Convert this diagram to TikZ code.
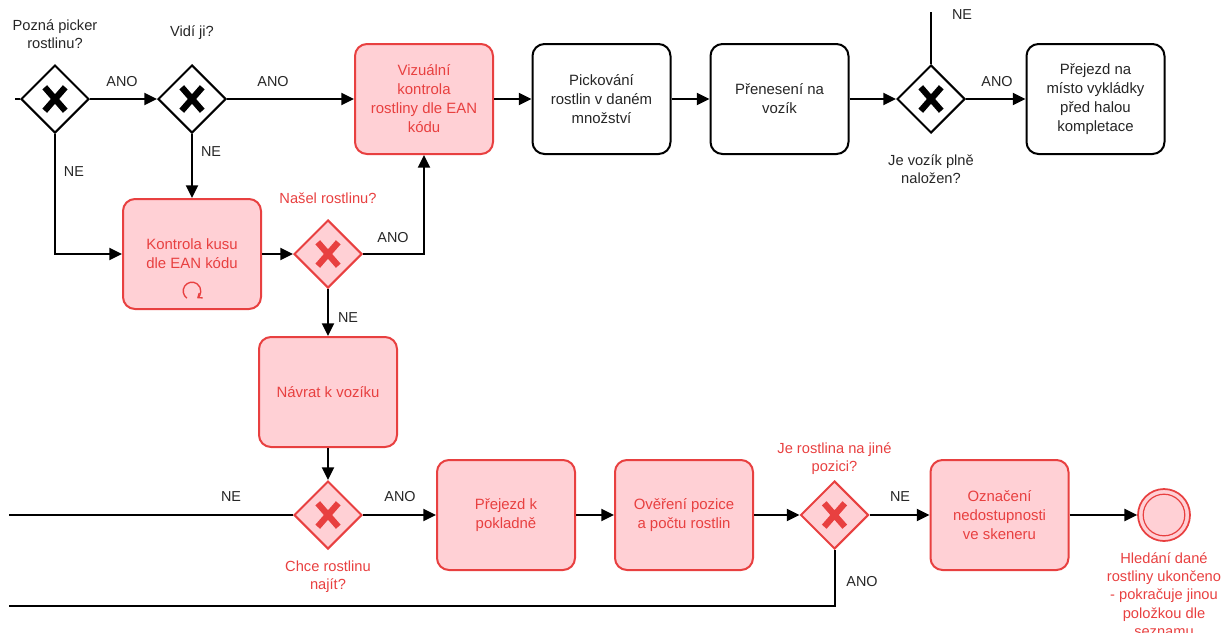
\documentclass[tikz,border=0pt]{standalone}
\usepackage{fontspec}
\setmainfont{Liberation Sans}
\usetikzlibrary{shapes.geometric,arrows.meta}
\definecolor{bpred}{RGB}{232,64,64}
\definecolor{bpfill}{RGB}{255,208,213}
\definecolor{inkgray}{RGB}{38,38,38}

\tikzset{
  flow/.style={line width=1.5pt, -{Triangle[length=9.5pt,width=9pt]}},
  plain/.style={line width=1.5pt},
  task/.style={draw, rounded corners=9pt, line width=1.5pt,
    minimum width=103.5pt, minimum height=82.5pt, align=center, inner sep=2pt,
    font=\fontsize{11.2}{14.25}\selectfont, text=inkgray, fill=white},
  redtask/.style={task, draw=bpred, fill=bpfill, text=bpred},
  gate/.style={diamond, draw, line width=1.5pt, minimum width=51pt,
    minimum height=51pt, inner sep=0pt, aspect=1, fill=white},
  redgate/.style={gate, draw=bpred, fill=bpfill},
  lbl/.style={font=\fontsize{10.8}{13}\selectfont, text=inkgray, inner sep=0pt},
  qlbl/.style={align=center, font=\fontsize{11}{13.5}\selectfont, text=inkgray, inner sep=0pt},
  redq/.style={qlbl, text=bpred},
}

% exclusive-gateway cross drawn over a diamond node
\newcommand\gatex[2]{%
  \draw[line width=4.7pt,#2]
    ([shift={(-7.7pt,-8.8pt)}]#1.center) -- ([shift={(7.7pt,8.8pt)}]#1.center)
    ([shift={(-7.7pt,8.8pt)}]#1.center) -- ([shift={(7.7pt,-8.8pt)}]#1.center);}

\begin{document}
\begin{tikzpicture}[x=0.75pt,y=-0.75pt]
\useasboundingbox (0,0) rectangle (1224,632);
\clip (0,0) rectangle (1224,632);

% ---------- upper lane ----------
\node[gate] (g1) at (55,99) {};
\gatex{g1}{black}
\node[qlbl] (q1) at (55,34) {Pozná picker\\rostlinu?};
\coordinate (in1) at (15,99);

\node[gate] (g2) at (192,99) {};
\gatex{g2}{black}
\node[qlbl] (q2) at (192,33) {Vidí ji?};

\node[redtask] (viz)  at (424,99) {Vizuální\\kontrola\\rostliny dle EAN\\kódu};
\node[task]    (pick) at (601.5,99) {Pickování\\rostlin v daném\\množství};
\node[task]    (pren) at (779.5,99) {Přenesení na\\vozík};

\node[gate] (g3) at (931,99) {};
\gatex{g3}{black}
\node[qlbl] (q3) at (931,169) {Je vozík plně\\naložen?};
\coordinate (top3) at (931,12);

\node[task] (prej) at (1095.5,99) {Přejezd na\\místo vykládky\\před halou\\kompletace};

% ---------- search loop ----------
\node[redtask] (kon) at (192,254) {Kontrola kusu\\dle EAN kódu};
\coordinate (loopc) at (192,291);
\draw[bpred, line width=1pt, -{Straight Barb[length=2.8pt,width=4.5pt]}]
  ([shift={(235:6.6pt)}]loopc) arc[start angle=235, end angle=-55, radius=6.6pt];

\node[redgate] (g4) at (328,254) {};
\gatex{g4}{bpred}
\node[redq] (q4) at (328,198) {Našel rostlinu?};

\node[redtask] (nav) at (328,392) {Návrat k vozíku};

% ---------- lower lane ----------
\node[redgate] (g5) at (328,515) {};
\gatex{g5}{bpred}
\node[redq] (q5) at (328,577) {Chce rostlinu\\najít?};
\coordinate (out5) at (9,515);

\node[redtask] (pok)  at (506,515) {Přejezd k\\pokladně};
\node[redtask] (over) at (684,515) {Ověření pozice\\a počtu rostlin};

\node[redgate] (g6) at (834.5,515) {};
\gatex{g6}{bpred}
\node[redq] (q6) at (834.5,459) {Je rostlina na jiné\\pozici?};
\coordinate (out6) at (9,606);

\node[redtask] (ozn) at (999.5,515) {Označení\\nedostupnosti\\ve skeneru};

\node[circle, draw=bpred, fill=bpfill, line width=1.3pt, minimum size=39pt,
      inner sep=0pt] (endev) at (1164,515) {};
\draw[bpred, line width=0.9pt] (endev.center) circle[radius=15.6pt];
\node[redq, anchor=north, font=\fontsize{11}{13.8}\selectfont] (endlbl) at (1164,552)
  {Hledání dané\\rostliny ukončeno\\- pokračuje jinou\\položkou dle\\seznamu};

% ---------- connectors ----------
\draw[plain] (in1) -- (g1.west);
\draw[flow] (g1.east) -- (g2.west);
\node[lbl] at (122,82) {ANO};
\draw[flow] (g2.east) -- (viz.west);
\node[lbl] at (273,82) {ANO};
\draw[flow] (viz.east) -- (pick.west);
\draw[flow] (pick.east) -- (pren.west);
\draw[flow] (pren.east) -- (g3.west);
\draw[plain] (top3) -- (g3.north);
\node[lbl] at (962,15) {NE};
\draw[flow] (g3.east) -- (prej.west);
\node[lbl] at (997,82) {ANO};

\draw[flow] (g2.south) -- (kon.north);
\node[lbl] at (211,152) {NE};
\draw[flow] (g1.south) |- (kon.west);
\node[lbl] at (74,172) {NE};

\draw[flow] (kon.east) -- (g4.west);
\draw[flow] (g4.east) -| (viz.south);
\node[lbl] at (393,238) {ANO};
\draw[flow] (g4.south) -- (nav.north);
\node[lbl] at (348,318) {NE};

\draw[flow] (nav.south) -- (g5.north);
\draw[plain] (g5.west) -- (out5);
\node[lbl] at (231,497) {NE};
\draw[flow] (g5.east) -- (pok.west);
\node[lbl] at (400,497) {ANO};
\draw[flow] (pok.east) -- (over.west);
\draw[flow] (over.east) -- (g6.west);
\draw[flow] (g6.east) -- (ozn.west);
\node[lbl] at (900,497) {NE};
\draw[plain] (g6.south) |- (out6);
\node[lbl] at (862,582) {ANO};
\draw[flow] (ozn.east) -- (endev.west);
\end{tikzpicture}
\end{document}
